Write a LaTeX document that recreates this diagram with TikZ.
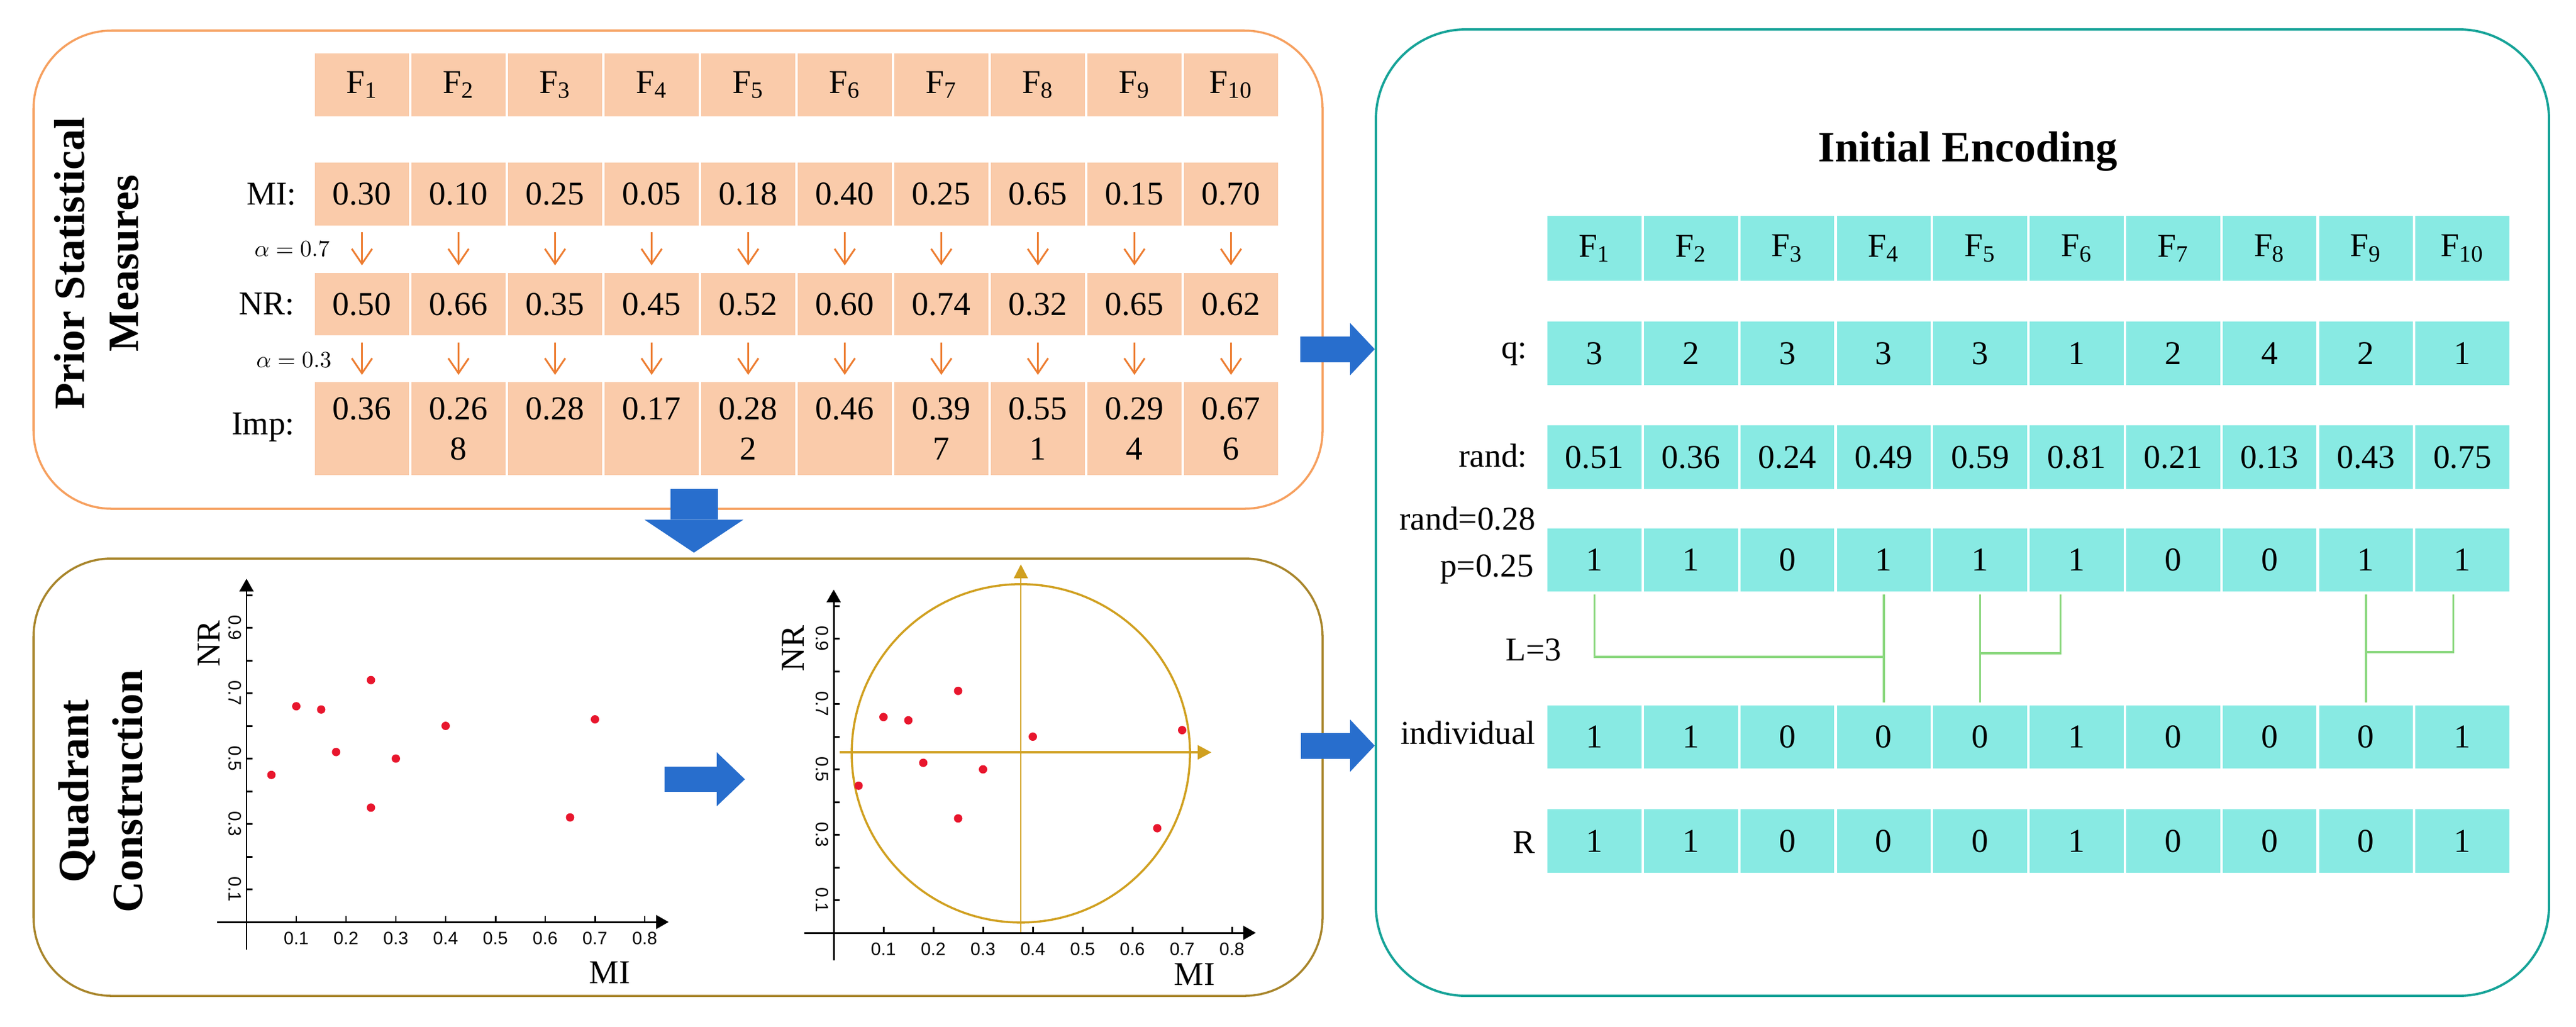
\documentclass[tikz,border=0pt]{standalone}
\usepackage{fontspec}
\setmainfont{Liberation Serif}
\newfontfamily\ticksf{Liberation Sans}
\usetikzlibrary{arrows.meta}
\definecolor{cellorange}{RGB}{250,203,170}
\definecolor{cellteal}{RGB}{136,234,227}
\definecolor{boxorange}{RGB}{246,160,95}
\definecolor{boxbrown}{RGB}{168,133,43}
\definecolor{boxteal}{RGB}{22,163,152}
\definecolor{arrorange}{RGB}{237,125,49}
\definecolor{flowblue}{RGB}{40,110,205}
\definecolor{quadgold}{RGB}{208,160,32}
\definecolor{linkgreen}{RGB}{140,216,128}
\definecolor{dotred}{RGB}{232,22,45}
\begin{document}
\begin{tikzpicture}[
  txt/.style={font=\fontsize{15.8}{19}\selectfont},
  ocell/.style={txt, fill=cellorange, draw=white, line width=1.2pt, minimum width=1.61cm, minimum height=1.09cm, inner sep=0pt},
  tcell/.style={txt, fill=cellteal, draw=white, line width=1.2pt, minimum width=1.608cm, minimum height=1.10cm, inner sep=0pt},
  rowlbl/.style={txt, anchor=east, inner sep=0pt},
  ttl/.style={font=\fontsize{20.5}{25.6}\selectfont\bfseries, align=center},
  panel/.style={line width=1pt, rounded corners=1.3cm, inner sep=0pt},
  mapdown/.style={arrorange, line width=0.85pt, -{Straight Barb[length=0.25cm,width=0.34cm]}, shorten <=0.07cm, shorten >=0.08cm},
  flowarrow/.style={flowblue, line width=0.43cm, -{Triangle[width=0.87cm,length=0.41cm,line width=0pt]}},
  link/.style={linkgreen, line width=1pt},
  plotaxis/.style={line width=0.85pt, -{Triangle[length=0.21cm,width=0.23cm]}},
  ticklbl/.style={font=\ticksf\fontsize{8.5}{10}\selectfont, inner sep=0pt},
  reddot/.style={fill=dotred},
]
\useasboundingbox (0,0) rectangle (42.95,-17.11);

% panels
\node[panel, draw=boxorange, minimum width=21.49cm, minimum height=7.97cm] (pbox) at (11.305,-4.495) {};
\node[panel, draw=boxbrown, minimum width=21.49cm, minimum height=7.29cm] (qbox) at (11.305,-12.955) {};
\node[panel, draw=boxteal, line width=1.1pt, rounded corners=1.5cm, minimum width=19.56cm, minimum height=16.11cm] (ebox) at (32.72,-8.545) {};

% Prior statistical measures
\node[ttl, rotate=90] (ptitle) at (1.61,-4.39) {Prior Statistical\\Measures};
\foreach \i in {1,...,10}
  \node[ocell] (f-\i) at ({5.23+1.61*(\i-0.5)},-1.415) {F\textsubscript{\i}};
\foreach \v [count=\i] in {0.30,0.10,0.25,0.05,0.18,0.40,0.25,0.65,0.15,0.70}
  \node[ocell] (mi-\i) at ({5.23+1.61*(\i-0.5)},-3.235) {\v};
\foreach \v [count=\i] in {0.50,0.66,0.35,0.45,0.52,0.60,0.74,0.32,0.65,0.62}
  \node[ocell] (nr-\i) at ({5.23+1.61*(\i-0.5)},-5.07) {\v};
\foreach \v [count=\i] in {{0.36\\\phantom{0}},{0.26\\8},{0.28\\\phantom{0}},{0.17\\\phantom{0}},{0.28\\2},{0.46\\\phantom{0}},{0.39\\7},{0.55\\1},{0.29\\4},{0.67\\6}}
  \node[ocell, minimum height=1.59cm, align=center] (imp-\i) at ({5.23+1.61*(\i-0.5)},-7.145) {\v};
\foreach \i in {1,...,10} {
  \draw[mapdown] (mi-\i) -- (nr-\i);
  \draw[mapdown] (nr-\i) -- (imp-\i);
}
\node[rowlbl] (lmi) at (4.95,-3.235) {MI:};
\node[rowlbl] (lnr) at (4.92,-5.07) {NR:};
\node[rowlbl] (limp) at (4.92,-7.12) {Imp:};
\node[font=\fontsize{11}{13}\selectfont] (alpha1) at (4.87,-4.15) {$\alpha = 0.7$};
\node[font=\fontsize{11}{13}\selectfont] (alpha2) at (4.90,-6.0) {$\alpha = 0.3$};

% Quadrant construction
\node[ttl, rotate=90] (qtitle) at (1.68,-13.19) {Quadrant\\Construction};
\begin{scope}[shift={(4.11,-15.37)}, x=8.3cm, y=5.45cm]
\draw[plotaxis] (0,-0.084) -- (0,1.05);
\draw[plotaxis] (-0.059,0) -- (0.848,0);
\foreach \t in {1,...,8} {
  \draw[line width=0.85pt] ({\t/10},0) -- ++(0,0.1cm);
  \node[ticklbl] (xa\t) at ({\t/10},-0.05) {0.\t};
}
\foreach \t in {1,...,10}
  \draw[line width=0.85pt] (0,{\t/10}) -- ++(0.1cm,0);
\foreach \t in {1,3,5,7,9}
  \node[ticklbl, rotate=-90] (ya\t) at (-0.023,{\t/10}) {0.\t};
\node[txt, rotate=90] (nra) at (-0.076,0.851) {NR};
\node[txt] (mia) at (0.73,-0.155) {MI};
\foreach \p in {(0.30,0.50),(0.10,0.66),(0.25,0.35),(0.05,0.45),(0.18,0.52),(0.40,0.60),(0.25,0.74),(0.65,0.32),(0.15,0.65),(0.70,0.62)}
  \fill[reddot] \p circle[radius=0.07cm];
\end{scope}

\begin{scope}[shift={(13.90,-15.55)}, x=8.3cm, y=5.45cm]
\draw[quadgold, line width=1pt] (0.376,0.549) circle[radius=2.82cm];
\draw[quadgold, line width=0.7pt, -{Triangle[length=0.23cm,width=0.23cm]}] (0.376,-0.002) -- (0.376,1.127);
\draw[quadgold, line width=1.3pt, -{Triangle[length=0.23cm,width=0.23cm]}] (0.012,0.552) -- (0.759,0.552);
\draw[plotaxis] (0,-0.084) -- (0,1.05);
\draw[plotaxis] (-0.059,0) -- (0.848,0);
\foreach \t in {1,...,8} {
  \draw[line width=0.85pt] ({\t/10},0) -- ++(0,0.1cm);
  \node[ticklbl] (xb\t) at ({\t/10},-0.05) {0.\t};
}
\foreach \t in {1,...,10}
  \draw[line width=0.85pt] (0,{\t/10}) -- ++(0.1cm,0);
\foreach \t in {1,3,5,7,9}
  \node[ticklbl, rotate=-90] (yb\t) at (-0.023,{\t/10}) {0.\t};
\node[txt, rotate=90] (nrb) at (-0.082,0.87) {NR};
\node[txt] (mib) at (0.725,-0.127) {MI};
\foreach \p in {(0.30,0.50),(0.10,0.66),(0.25,0.35),(0.05,0.45),(0.18,0.52),(0.40,0.60),(0.25,0.74),(0.65,0.32),(0.15,0.65),(0.70,0.62)}
  \fill[reddot] \p circle[radius=0.07cm];
\end{scope}

% Initial encoding
\node[ttl] (etitle) at (32.81,-2.52) {Initial Encoding};
\foreach \i in {1,...,10}
  \node[tcell, minimum height=1.12cm] (tf-\i) at ({25.78+1.608*(\i-0.5)},-4.14) {F\textsubscript{\i}};
\foreach \v [count=\i] in {3,2,3,3,3,1,2,4,2,1}
  \node[tcell] (q-\i) at ({25.78+1.608*(\i-0.5)},-5.89) {\v};
\foreach \v [count=\i] in {0.51,0.36,0.24,0.49,0.59,0.81,0.21,0.13,0.43,0.75}
  \node[tcell] (rd-\i) at ({25.78+1.608*(\i-0.5)},-7.62) {\v};
\foreach \v [count=\i] in {1,1,0,1,1,1,0,0,1,1}
  \node[tcell] (p-\i) at ({25.78+1.608*(\i-0.5)},-9.335) {\v};
\foreach \v [count=\i] in {1,1,0,0,0,1,0,0,0,1}
  \node[tcell] (ind-\i) at ({25.78+1.608*(\i-0.5)},-12.285) {\v};
\foreach \v [count=\i] in {1,1,0,0,0,1,0,0,0,1}
  \node[tcell] (r-\i) at ({25.78+1.608*(\i-0.5)},-14.02) {\v};
\node[rowlbl] (lq) at (25.47,-5.90) {q:};
\node[rowlbl] (lrand) at (25.47,-7.60) {rand:};
\node[rowlbl] (lrv) at (25.61,-8.645) {rand=0.28};
\node[rowlbl] (lp) at (25.58,-9.49) {p=0.25};
\node[rowlbl] (lL) at (26.04,-10.835) {L=3};
\node[rowlbl] (lind) at (25.61,-12.215) {individual};
\node[rowlbl] (lR) at (25.60,-14.045) {R};

% crossover links
\draw[link] (p-1.south) |- (p-4.south |- 0,-10.95);
\draw[link] (p-4.south) -- (ind-4.north);
\draw[link] ([xshift=-0.27cm]p-6.south) |- (p-5.south |- 0,-10.89);
\draw[link] (p-5.south) -- (ind-5.north);
\draw[link] ([xshift=-0.15cm]p-10.south) |- (p-9.south |- 0,-10.87);
\draw[link] (p-9.south) -- (ind-9.north);

% flow arrows
\coordinate (t1) at ([xshift=-0.39cm,yshift=-1.325cm]pbox.east);
\draw[flowarrow] (t1) -- (t1 -| ebox.west);
\coordinate (t2) at ([xshift=-0.38cm,yshift=0.525cm]qbox.east);
\draw[flowarrow] (t2) -- (t2 -| ebox.west);
\draw[flowarrow, line width=0.79cm, -{Triangle[width=1.65cm,length=0.55cm,line width=0pt]}] ([xshift=0.265cm,yshift=0.35cm]pbox.south) -- ([xshift=0.265cm,yshift=0.08cm]qbox.north);
\coordinate (s1) at (11.08,-12.99);
\coordinate (s2) at (12.42,-12.99);
\draw[flowarrow, line width=0.42cm, -{Triangle[width=0.90cm,length=0.47cm,line width=0pt]}] (s1) -- (s2);
\end{tikzpicture}
\end{document}
